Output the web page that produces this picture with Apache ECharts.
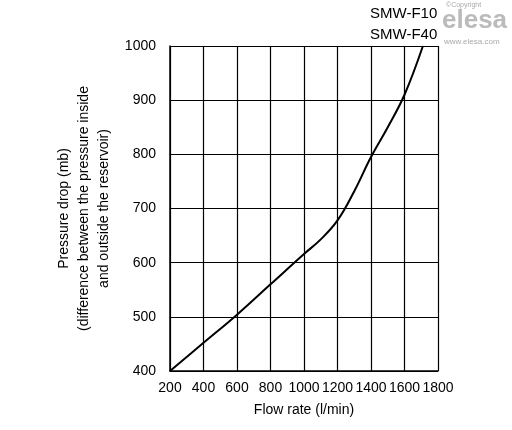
<!DOCTYPE html><html><head><meta charset="utf-8"><script src="https://cdn.jsdelivr.net/npm/echarts@6/dist/echarts.min.js"></script></head><body style="margin:0;background:#fff"><div id="c" style="width:512px;height:430px"></div><script>
const flow=[200,400,600,800,1000,1100,1200,1300,1400,1500,1600,1710];
const drop=[400,452,504,560,616,643,678,732,795,850,910,1000];
const xTicks=[200,400,600,800,1000,1200,1400,1600,1800];
const ch=echarts.init(document.getElementById('c'));
const f='Liberation Sans, Arial, sans-serif';
ch.setOption({animation:false,
grid:{left:170,right:74,top:46,bottom:59},
xAxis:{type:'value',min:200,max:1800,interval:200,name:'Flow rate (l/min)',nameLocation:'middle',nameGap:32,nameTextStyle:{color:'#000',fontSize:14,fontFamily:f},
axisLine:{lineStyle:{color:'#000',width:1.5}},axisTick:{show:false},axisLabel:{color:'#000',fontSize:14,fontFamily:f,formatter:v=>String(v),margin:10},splitLine:{lineStyle:{color:'#000',width:1.2}}},
yAxis:{type:'value',min:400,max:1000,interval:100,name:'Pressure drop (mb)\n(difference between the pressure inside\nand outside the reservoir)',nameLocation:'middle',nameGap:50,nameTextStyle:{color:'#000',fontSize:14,fontFamily:f,lineHeight:20},
axisLine:{lineStyle:{color:'#000',width:1.5}},axisTick:{show:false},axisLabel:{color:'#000',fontSize:14,fontFamily:f,formatter:v=>String(v),margin:14},splitLine:{lineStyle:{color:'#000',width:1.2}}},
series:[{type:'line',data:flow.map((x,i)=>[x,drop[i]]),smooth:0.4,symbol:'none',lineStyle:{color:'#000',width:2},clip:false}],
graphic:[
{type:'text',left:370,top:6,style:{text:'SMW-F10',fontSize:15,fontFamily:f,fill:'#000'}},
{type:'text',left:370,top:27,style:{text:'SMW-F40',fontSize:15,fontFamily:f,fill:'#000'}},
{type:'text',left:446,top:2,style:{text:'©Copyright',fontSize:7,fontFamily:f,fill:'#aaa'}},
{type:'text',left:442,top:8,style:{text:'elesa',fontSize:26,fontWeight:'bold',fontFamily:f,fill:'#bbb'}},
{type:'text',left:444,top:38,style:{text:'www.elesa.com',fontSize:8,fontFamily:f,fill:'#aaa'}}
]});
</script></body></html>
